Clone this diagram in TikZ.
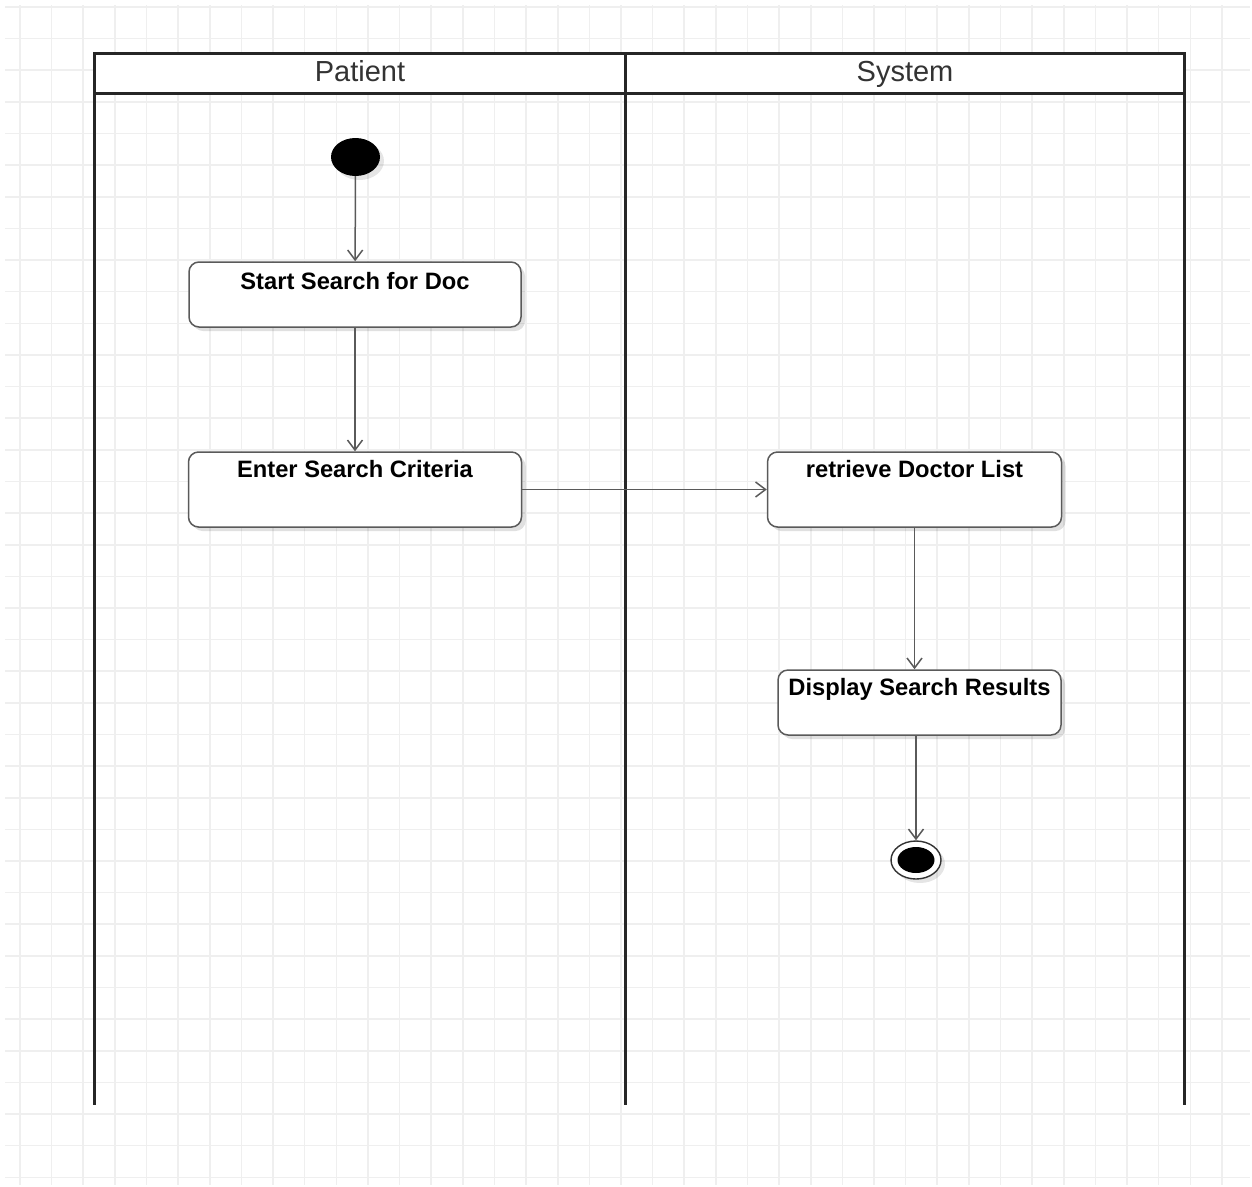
\documentclass[tikz,border=0pt]{standalone}
\usepackage{fontspec}
\setmainfont{Liberation Sans}
\usetikzlibrary{arrows.meta,shapes.geometric,shadows}
\definecolor{gridgray}{HTML}{EFEFEF}
\definecolor{lanegray}{HTML}{262626}
\definecolor{edgegray}{HTML}{5A5A5A}
\definecolor{inkgray}{HTML}{333333}
\tikzset{
  lane/.style={draw=lanegray, line width=3pt},
  lanetitle/.style={anchor=base, inner sep=0pt, text=inkgray,
    font=\fontsize{29}{34}\selectfont},
  action/.style={draw=edgegray, line width=1.5pt, fill=white, rounded corners=10pt,
    inner sep=0pt, align=center, text=black,
    font=\bfseries\fontsize{23.7}{28}\selectfont,
    drop shadow={shadow xshift=4pt, shadow yshift=-4pt, opacity=0.12, fill=black}},
  initial/.style={ellipse, fill=black, inner sep=0pt, minimum width=49pt, minimum height=38pt,
    drop shadow={shadow xshift=4pt, shadow yshift=-4pt, opacity=0.10, fill=black}},
  finalring/.style={ellipse, draw=inkgray, line width=1.4pt, fill=white, inner sep=0pt,
    minimum width=50pt, minimum height=38pt,
    drop shadow={shadow xshift=4pt, shadow yshift=-4pt, opacity=0.10, fill=black}},
  finaldot/.style={ellipse, fill=black, inner sep=0pt, minimum width=37pt, minimum height=26pt},
  flow/.style={draw=edgegray, line width=1.5pt, -{Straight Barb[length=10pt, width=15pt, line width=1.5pt]}}
}
\begin{document}
\begin{tikzpicture}[x=1pt, y=-1pt]
  \useasboundingbox (0,0) rectangle (1252,1186);
  \fill[white] (0,0) rectangle (1252,1186);

  % background grid
  \begin{scope}[draw=gridgray, line width=1.6pt]
    \foreach \k in {0,...,38} {
      \pgfmathsetmacro{\gx}{20+31.63*\k}
      \draw (\gx,5) -- (\gx,1185);
    }
    \foreach \k in {0,...,37} {
      \pgfmathsetmacro{\gy}{7+31.63*\k}
      \draw (5,\gy) -- (1250,\gy);
    }
  \end{scope}

  % swimlanes
  \fill[white] (94,53) rectangle (1184,93);
  \draw[lane] (94,53) rectangle (1184,93);
  \draw[lane] (94,53) -- (94,1105);
  \draw[lane] (625,53) -- (625,1105);
  \draw[lane] (1184,53) -- (1184,1105);
  \node[lanetitle] (patient) at (360,81.5) {Patient};
  \node[lanetitle] (system) at (905,81.5) {System};

  % activity nodes
  \node[initial] (start) at (355.5,157) {};
  \node[action, minimum width=332pt, text height=27pt, text depth=38pt] (b1) at (355,294.5) {Start Search for Doc};
  \node[action, minimum width=333pt, text height=25.5pt, text depth=49.5pt] (b2) at (355,489.5) {Enter Search Criteria};
  \node[action, minimum width=294pt, text height=25.5pt, text depth=49.5pt] (b3) at (914.5,489.5) {retrieve Doctor List};
  \node[action, minimum width=283pt, text height=25.5pt, text depth=39.5pt] (b4) at (919.5,702.5) {Display Search Results};
  \node[finalring] (end) at (916,860) {};
  \node[finaldot] (enddot) at (end) {};

  % control flow
  \draw[flow] (start) -- (b1);
  \draw[flow] (b1) -- (b2);
  \draw[flow] (b2) -- (b3);
  \draw[flow] (b3.south) -- (b3.south |- b4.north);
  \draw[flow] (end |- b4.south) -- (end.north);
\end{tikzpicture}
\end{document}
